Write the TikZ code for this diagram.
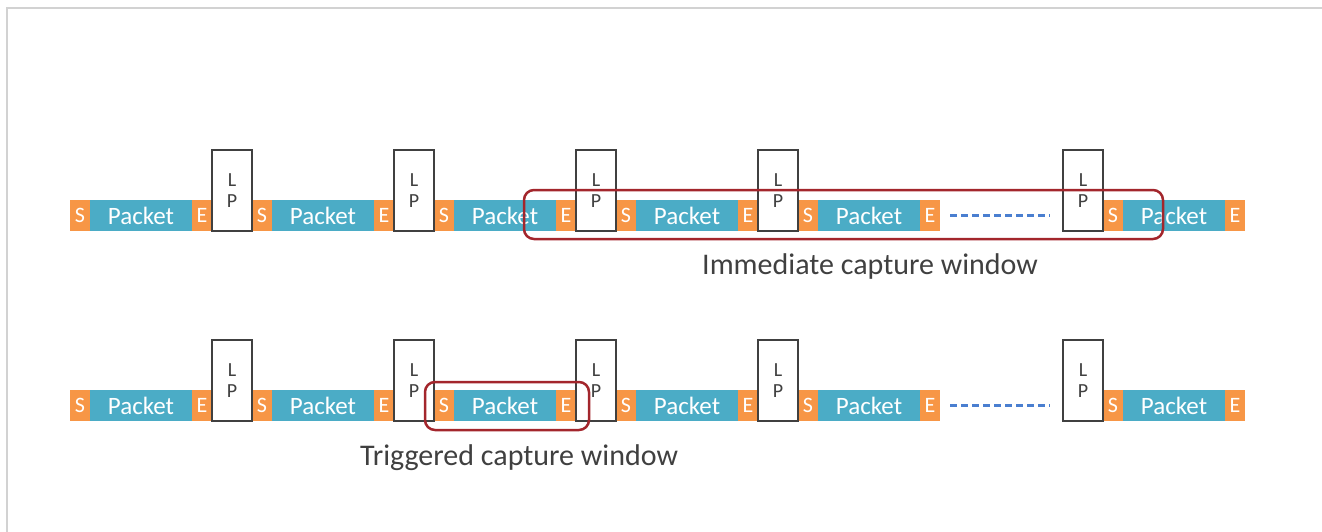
\documentclass[tikz,border=0pt]{standalone}
\usepackage{fontspec}
\setmainfont{Carlito}
\usepackage{tikz}
\usetikzlibrary{arrows,positioning}
\tikzset{>=latex}
\definecolor{sorange}{HTML}{F79646}
\definecolor{pblue}{HTML}{4BACC6}
\definecolor{winred}{HTML}{A3262C}
\definecolor{lpgray}{HTML}{404040}
\definecolor{dashblue}{HTML}{4A7FD0}
\tikzstyle{field}=[rectangle,inner sep=0,outer sep=0,minimum height=31,text=white,anchor=west]
\tikzstyle{sfield}=[field,fill=sorange,minimum width=20,font=\fontsize{22}{22}\selectfont]
\tikzstyle{pfield}=[field,fill=pblue,minimum width=102,font=\fontsize{25}{25}\selectfont]
\tikzstyle{lpbox}=[rectangle,draw=lpgray,fill=white,line width=1.5,minimum width=40,minimum height=81,inner sep=0,outer sep=0,align=center,anchor=south west,text=lpgray,font=\fontsize{20}{21}\selectfont]
\tikzstyle{capwin}=[rectangle,draw=winred,line width=2.5,rounded corners=10,inner sep=0]
\tikzstyle{caption}=[text=lpgray,font=\fontsize{30}{30}\selectfont]

\begin{document}
\begin{tikzpicture}[x=1pt,y=-1pt]
	\useasboundingbox (0,0) rectangle (1322,532);
	\draw[gray!35, line width=1.5] (7,532) -- (7,8) -- (1322,8);
	
	\foreach \r/\y in {1/215.5, 2/405.5} {
		\foreach \i/\x in {1/70,2/252,3/434,4/616,5/798,6/1103} {
			\node[sfield] (s\r\i) at (\x,\y) {S};
			\node[pfield, right=0pt of s\r\i] (p\r\i) {Packet};
			\node[sfield, right=0pt of p\r\i] (e\r\i) {E};
		}
		\foreach \i in {1,...,4} {
			\node[lpbox] (lp\r\i) at (e\r\i.south east) {L\\P};
		}
		\node[lpbox, anchor=south east] (lp\r5) at (s\r6.south west) {L\\P};
		\draw[draw=dashblue, line width=2.2pt, dash pattern=on 7pt off 4pt, shorten <=10pt, shorten >=13pt] (e\r5.east) -- (e\r5.east -| lp\r5.west);
	}
	
	\node[capwin, minimum width=639, minimum height=49] (win1) at (843.5,214.5) {};
	\node[caption] (cap1) at (870,267) {Immediate capture window};
	\node[capwin, minimum width=164, minimum height=48] (win2) at (507,406) {};
	\node[caption] (cap2) at (519,458) {Triggered capture window};
\end{tikzpicture}
\end{document}
